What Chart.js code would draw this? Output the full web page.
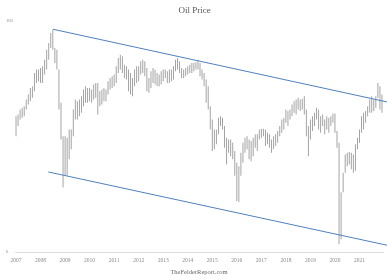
<!DOCTYPE html>
<html>
<head>
<meta charset="utf-8">
<script src="https://cdn.jsdelivr.net/npm/chart.js@4.4.1/dist/chart.umd.min.js"></script>
<style>
  html, body { margin: 0; padding: 0; background: #fff; }
</style>
</head>
<body>
<canvas id="oilChart" width="387" height="280"></canvas>
<script>
// Year labels (one tick every 12 months, starting Jan 2007)
const years = ['2007', '2008', '2009', '2010', '2011', '2012', '2013', '2014',
  '2015', '2016', '2017', '2018', '2019', '2020', '2021'];

// Monthly high / low, Jan 2007 .. Dec 2021
const highs = [
  41.3, 42.3, 45.4, 46.5, 47.6, 52.3, 56.1, 61.7, 63.2, 76.3, 80.0, 80.0,
  81.9, 83.8, 92.1, 106.1, 116.6, 134.4, 140.9, 108.7, 106.1, 80.0, 49.9, 31.1,
  31.1, 30.4, 34.2, 34.2, 45.4, 52.3, 51.1, 52.3, 54.8, 60.3, 63.2, 61.7,
  61.7, 60.3, 64.7, 66.2, 66.2, 58.9, 60.3, 61.7, 60.3, 67.8, 71.1, 72.8,
  74.5, 83.8, 94.3, 98.9, 96.6, 85.8, 83.8, 80.0, 76.3, 71.1, 80.0, 83.8,
  83.8, 90.0, 92.1, 90.0, 81.9, 71.1, 78.1, 81.9, 80.0, 76.3, 74.5, 78.1,
  80.0, 80.0, 78.1, 80.0, 80.0, 83.8, 92.1, 94.3, 90.0, 81.9, 80.0, 81.9,
  83.8, 85.8, 87.9, 87.9, 88.7, 92.1, 87.9, 80.0, 76.3, 69.4, 63.2, 47.6,
  39.4, 34.2, 34.2, 40.4, 41.3, 40.4, 35.9, 30.4, 29.7, 29.7, 28.3, 25.2,
  21.3, 20.3, 24.6, 28.3, 30.4, 31.1, 29.7, 29.0, 30.4, 31.9, 31.9, 34.2,
  34.5, 34.5, 34.2, 32.6, 31.9, 29.7, 31.1, 31.9, 33.4, 35.9, 39.4, 40.4,
  45.4, 44.4, 45.4, 48.8, 51.1, 52.3, 53.6, 52.3, 52.8, 54.8, 45.4, 35.9,
  39.4, 41.3, 43.3, 46.5, 45.4, 41.3, 42.3, 39.4, 41.3, 40.4, 41.3, 42.9,
  42.9, 33.4, 28.3, 14.0, 18.5, 24.0, 24.6, 24.8, 24.6, 24.0, 27.7, 30.4,
  34.2, 41.3, 43.3, 44.4, 47.6, 52.3, 54.8, 52.3, 54.8, 66.2, 63.2, 56.1
];
const lows = [
  31.1, 35.9, 39.4, 40.4, 41.3, 45.4, 48.8, 51.1, 53.6, 58.9, 66.2, 67.8,
  66.2, 66.2, 74.5, 80.0, 92.1, 108.7, 106.1, 87.9, 80.0, 45.4, 29.7, 15.0,
  17.7, 17.7, 22.4, 25.8, 31.1, 39.4, 39.4, 41.3, 43.3, 47.6, 49.9, 49.9,
  51.1, 49.9, 52.3, 53.6, 42.3, 47.6, 48.8, 51.1, 51.1, 56.1, 60.3, 61.7,
  63.2, 66.2, 76.3, 80.0, 76.3, 71.1, 69.4, 58.9, 56.1, 54.8, 63.2, 66.2,
  67.8, 74.5, 76.3, 72.8, 58.9, 57.5, 61.7, 66.2, 64.7, 63.2, 63.2, 64.7,
  67.8, 71.1, 66.2, 66.2, 67.8, 69.4, 78.1, 80.0, 76.3, 71.1, 71.1, 72.8,
  74.5, 76.3, 76.3, 78.1, 80.0, 80.0, 72.8, 69.4, 63.2, 49.9, 45.4, 34.2,
  25.2, 25.8, 27.7, 31.9, 35.9, 34.2, 26.4, 20.8, 24.6, 23.4, 22.4, 17.7,
  12.4, 12.2, 17.7, 21.3, 24.6, 25.8, 22.4, 21.8, 23.4, 26.4, 25.2, 29.7,
  30.4, 31.1, 27.0, 27.7, 26.4, 24.6, 25.8, 27.0, 28.3, 31.1, 32.6, 34.2,
  37.6, 35.9, 39.4, 41.3, 43.3, 42.3, 45.4, 44.4, 45.4, 42.3, 31.1, 23.4,
  29.7, 33.4, 35.9, 39.4, 34.2, 32.6, 35.9, 31.9, 34.2, 32.6, 35.9, 37.6,
  32.6, 26.4, 6.7, 7.2, 14.0, 18.5, 20.3, 20.8, 19.4, 18.5, 19.0, 25.8,
  28.3, 32.6, 34.2, 37.6, 41.3, 43.3, 43.3, 44.4, 46.5, 53.6, 45.4, 43.3
];

// Price axis labels
const yTicks = [6, 160];

// Channel lines: [month index, price]
const upperTrend = [{ x: 18, y: 142 }, { x: 181.6, y: 50.5 }];
const lowerTrend = [{ x: 15.8, y: 18.7 }, { x: 181.6, y: 6.6 }];

const serif = 'Liberation Serif';
const bars = highs.map((h, i) => ({ x: i, y: [lows[i], h] }));

const ctx = document.getElementById('oilChart').getContext('2d');
new Chart(ctx, {
  type: 'bar',
  data: {
    datasets: [{
      type: 'bar',
      data: bars,
      backgroundColor: '#9a9a9a',
      barThickness: 0.9,
      inflateAmount: 0,
      order: 2
    }, {
      type: 'line',
      data: upperTrend,
      borderColor: '#4f80bf',
      borderWidth: 1,
      pointRadius: 0,
      clip: false,
      order: 1
    }, {
      type: 'line',
      data: lowerTrend,
      borderColor: '#4f80bf',
      borderWidth: 1,
      pointRadius: 0,
      clip: false,
      order: 1
    }]
  },
  options: {
    responsive: false,
    animation: false,
    layout: { padding: { left: 6, right: 4, top: 0, bottom: 0 } },
    scales: {
      x: {
        type: 'linear',
        offset: false,
        min: -0.5,
        max: 179.5,
        grid: { display: false, drawTicks: false, offset: false },
        border: { display: true, color: '#dddddd', width: 1 },
        afterBuildTicks: s => { s.ticks = years.map((y, k) => ({ value: k * 12 })); },
        afterFit: s => { s.height = 28; },
        ticks: {
          autoSkip: false,
          maxRotation: 0,
          padding: 5,
          color: '#8a8a8a',
          font: { family: serif, size: 5.5 },
          callback: v => years[Math.round(v / 12)]
        },
        title: {
          display: true,
          text: 'TheFelderReport.com',
          color: '#666666',
          font: { family: serif, size: 6.5 },
          padding: { top: 0, bottom: 4 }
        }
      },
      y: {
        type: 'logarithmic',
        min: 6,
        max: 160,
        grid: { display: false, drawTicks: false },
        border: { display: false },
        afterBuildTicks: s => { s.ticks = yTicks.map(v => ({ value: v })); },
        afterFit: s => { s.width = 9; },
        ticks: {
          crossAlign: 'far',
          padding: 0,
          color: '#8a8a8a',
          font: { family: serif, size: 4.5 },
          callback: v => String(v)
        }
      }
    },
    plugins: {
      legend: { display: false },
      tooltip: { enabled: false },
      title: {
        display: true,
        text: 'Oil Price',
        color: '#555555',
        font: { family: serif, size: 9, weight: 'normal' },
        padding: { top: 5, bottom: 5 }
      }
    }
  }
});
</script>
</body>
</html>
